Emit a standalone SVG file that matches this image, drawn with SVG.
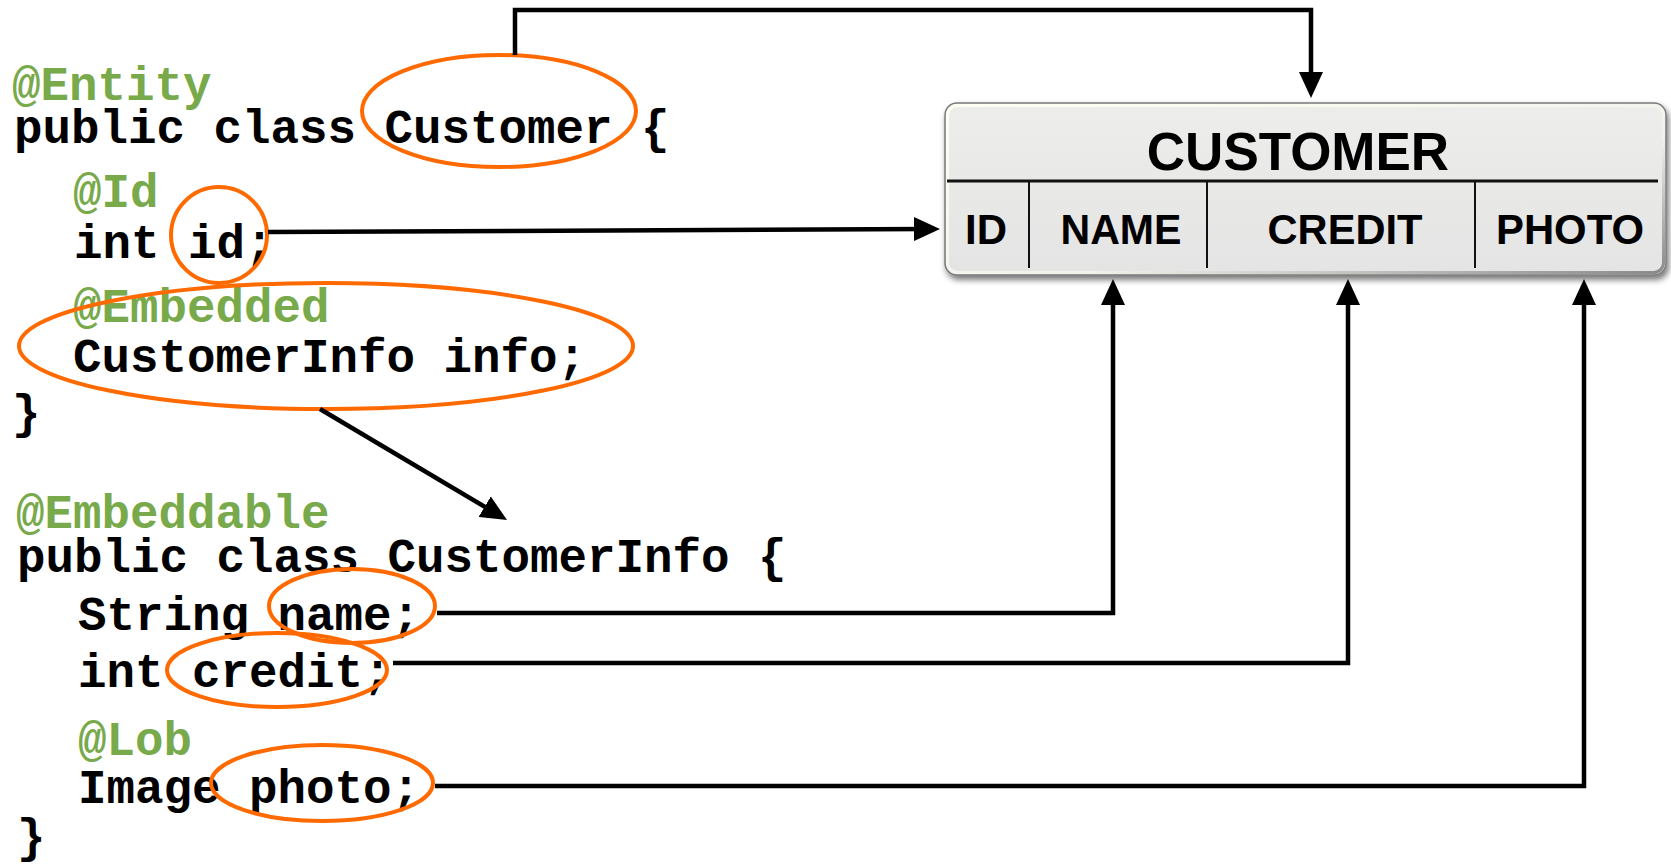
<svg xmlns="http://www.w3.org/2000/svg" width="1671" height="866" viewBox="0 0 1671 866">
  <style>
    .code { font-family: "Liberation Mono", "Courier New", monospace; font-weight: bold; font-size: 47.5px; fill: #000; }
    .ann { fill: #78A94A; }
    .mark { fill: none; stroke: #FF6A00; stroke-width: 4; }
    .wire { fill: none; stroke: #000; stroke-width: 4.5; stroke-linejoin: miter; }
    .hdr { font-family: "Liberation Sans", Arial, sans-serif; font-weight: bold; fill: #000; text-anchor: middle; }
    .sep { stroke: #111; stroke-width: 2; }
  </style>
  <defs>
    <marker id="head" viewBox="0 0 26 24" refX="14" refY="12" markerWidth="26" markerHeight="24" markerUnits="userSpaceOnUse" orient="auto">
      <path d="M0,0 L26,12 L0,24 z" fill="#000"/>
    </marker>
    <linearGradient id="tableFill" x1="0" y1="0" x2="0" y2="1">
      <stop offset="0" stop-color="#EDEDEB"/>
      <stop offset="1" stop-color="#E4E4E4"/>
    </linearGradient>
    <linearGradient id="bevel" x1="0" y1="0" x2="1" y2="1">
      <stop offset="0" stop-color="#FFFFF2"/>
      <stop offset="0.6" stop-color="#F2F2EC"/>
      <stop offset="1" stop-color="#8A8A8A"/>
    </linearGradient>
    <filter id="shadow" x="-5%" y="-10%" width="112%" height="130%">
      <feGaussianBlur in="SourceAlpha" stdDeviation="3"/>
      <feOffset dx="2" dy="4" result="b"/>
      <feComponentTransfer><feFuncA type="linear" slope="0.55"/></feComponentTransfer>
      <feMerge><feMergeNode/><feMergeNode in="SourceGraphic"/></feMerge>
    </filter>
  </defs>

  <rect width="1671" height="866" fill="#FFFFFF"/>

  <!-- Customer entity source -->
  <g id="customer-class">
    <text class="code ann" x="12" y="100">@Entity</text>
    <text class="code" x="14" y="143">public class Customer {</text>
    <text class="code ann" x="73" y="207">@Id</text>
    <text class="code" x="74" y="258">int id;</text>
    <text class="code ann" x="73" y="322">@Embedded</text>
    <text class="code" x="73" y="372">CustomerInfo info;</text>
    <text class="code" x="12" y="428">}</text>
    <ellipse class="mark" cx="499" cy="111" rx="137" ry="56"/>
    <ellipse class="mark" cx="219" cy="235" rx="48" ry="48"/>
    <ellipse class="mark" cx="326" cy="346" rx="307" ry="63"/>
  </g>

  <!-- Embeddable CustomerInfo source -->
  <g id="customerinfo-class">
    <text class="code ann" x="16" y="528">@Embeddable</text>
    <text class="code" x="17" y="572">public class CustomerInfo {</text>
    <text class="code" x="78" y="630">String name;</text>
    <text class="code" x="78" y="687">int credit;</text>
    <text class="code ann" x="78" y="755">@Lob</text>
    <text class="code" x="78" y="803">Image photo;</text>
    <text class="code" x="17" y="852">}</text>
    <ellipse class="mark" cx="352" cy="606" rx="83" ry="37"/>
    <ellipse class="mark" cx="277" cy="670" rx="110" ry="37"/>
    <ellipse class="mark" cx="322" cy="783" rx="111" ry="38"/>
  </g>

  <!-- CUSTOMER table -->
  <g id="customer-table">
    <rect x="945" y="103" width="721" height="172" rx="12" ry="12" fill="url(#tableFill)" stroke="#7A7A7A" stroke-width="1.5" filter="url(#shadow)"/>
    <rect x="947.5" y="105.5" width="716" height="167" rx="10" ry="10" fill="none" stroke="url(#bevel)" stroke-width="3"/>
    <line x1="947" y1="181" x2="1658" y2="181" stroke="#111" stroke-width="3"/>
    <line class="sep" x1="1029" y1="182" x2="1029" y2="268"/>
    <line class="sep" x1="1207" y1="182" x2="1207" y2="268"/>
    <line class="sep" x1="1475" y1="182" x2="1475" y2="268"/>
    <text class="hdr" x="1298" y="170" font-size="53">CUSTOMER</text>
    <text class="hdr" x="986" y="244" font-size="42">ID</text>
    <text class="hdr" x="1121" y="244" font-size="42" textLength="121" lengthAdjust="spacingAndGlyphs">NAME</text>
    <text class="hdr" x="1345" y="244" font-size="42" textLength="155" lengthAdjust="spacingAndGlyphs">CREDIT</text>
    <text class="hdr" x="1570" y="244" font-size="42" textLength="148" lengthAdjust="spacingAndGlyphs">PHOTO</text>
  </g>

  <!-- mapping connectors -->
  <g id="connectors">
    <path class="wire" d="M515,55 V10 H1311 V86" marker-end="url(#head)"/>
    <path class="wire" d="M268,232 L928,229" marker-end="url(#head)"/>
    <path class="wire" d="M320,409 L496.7,513.9" marker-end="url(#head)"/>
    <path class="wire" d="M437,613 H1113 V291" marker-end="url(#head)"/>
    <path class="wire" d="M393,663 H1348 V291" marker-end="url(#head)"/>
    <path class="wire" d="M435,786 H1584 V291" marker-end="url(#head)"/>
  </g>
</svg>
